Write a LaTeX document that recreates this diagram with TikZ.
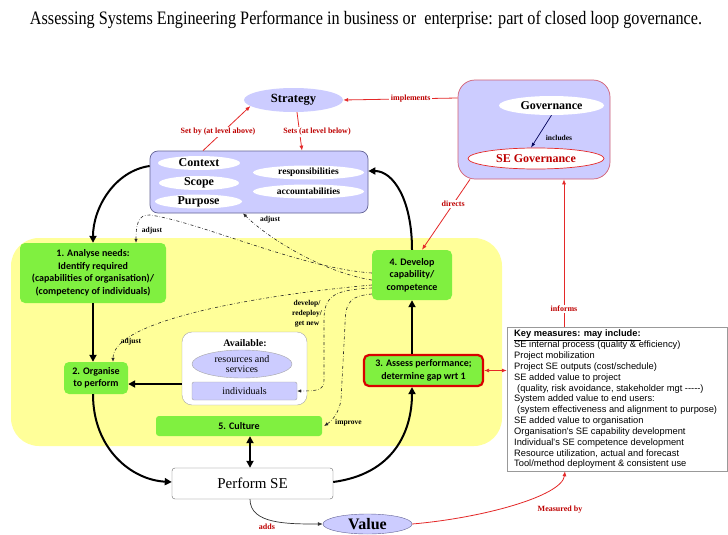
\documentclass[tikz,border=0pt]{standalone}
\usepackage{graphicx}
\usepackage{fontspec}
\setmainfont{Liberation Serif}
\newfontfamily\calibrifont{Carlito}
\newfontfamily\arialfont{Liberation Sans}
\usepackage{tikz}
\usetikzlibrary{arrows.meta,shapes.geometric}
\definecolor{lavfill}{RGB}{204,204,255}
\definecolor{lavedge}{RGB}{100,100,150}
\definecolor{limefill}{RGB}{128,240,64}
\definecolor{yelfill}{RGB}{255,255,153}
\definecolor{labred}{RGB}{190,0,0}
\definecolor{linered}{RGB}{228,40,40}
\definecolor{govedge}{RGB}{210,95,115}
\newcommand{\thk}{2pt}
\newcommand{\thn}{0.6pt}

\begin{document}
\begin{tikzpicture}[x=1pt,y=1pt]
  %\draw[help lines,step=20] (0,0) grid (728,-535);
  \tikzset{
    greenbox/.style={fill=limefill, rounded corners=5pt, align=center, inner sep=0pt,
      font=\calibrifont\bfseries\fontsize{10}{12.5}\selectfont},
    lavbox/.style={draw=lavedge, fill=lavfill, rounded corners=8pt, line width=0.7pt, inner sep=0pt},
    whiteell/.style={ellipse, fill=white, inner sep=-2pt},
    serifbold/.style={font=\bfseries\fontsize{#1}{#1}\selectfont},
    redlab/.style={text=labred, fill=white, inner sep=1.5pt, font=\bfseries\fontsize{8}{9}\selectfont},
    blacklab/.style={inner sep=1pt, align=center, font=\bfseries\fontsize{7.5}{10}\selectfont},
    flowarr/.style={line width=\thk, -{Triangle[length=7pt,width=7pt]}},
    redline/.style={linered, line width=0.8pt, -{Latex[length=5pt,width=4pt]}},
    dd/.style={dash dot, line width=\thn, black!85, -{Latex[length=4pt,width=3.5pt]}}
  }
  \fill[white] (0,0) rectangle (728,-535);
  \useasboundingbox (0,0) rectangle (728,-535);

  \node[font=\fontsize{19}{19}\selectfont, inner sep=0pt] (title) at (366,-20)
    {\resizebox{672pt}{\height}{Assessing Systems Engineering Performance in business or\ \ enterprise: part of closed loop governance.}};

  % the closed loop
  \node[fill=yelfill, rounded corners=28pt, minimum width=491pt, minimum height=208pt, inner sep=0pt] (zone) at (256.5,-342) {};

  \node[greenbox, minimum width=146pt, minimum height=60pt] (analyse) at (93,-273)
    {1. Analyse needs:\\Identify required\\(capabilities of organisation)/\\(competency of individuals)};
  \node[greenbox, minimum width=64pt, minimum height=32pt] (organise) at (96,-378) {2. Organise\\to perform};
  \node[greenbox, draw=red!85!black, line width=2.2pt, minimum width=119pt, minimum height=31pt] (assess) at (423.5,-370.5)
    {3. Assess performance;\\determine gap wrt 1};
  \node[greenbox, minimum width=80pt, minimum height=50pt] (develop) at (412,-275) {4. Develop\\capability/\\competence};
  \node[greenbox, rounded corners=3pt, minimum width=166pt, minimum height=20pt] (culture) at (239,-426) {5. Culture};

  \node[draw=gray!70, fill=white, rounded corners=10pt, minimum width=125pt, minimum height=73pt] (avail) at (244.5,-368.5) {};
  \node[serifbold=10] (availtxt) at (245,-343) {Available:};
  \node[ellipse, draw=gray!70, fill=lavfill, inner sep=-2pt, minimum width=100pt, minimum height=28pt, align=center,
    font=\fontsize{10}{10.5}\selectfont] (resources) at (242,-364) {resources and\\services};
  \node[draw=gray!70, fill=lavfill, rounded corners=2pt, minimum width=105pt, minimum height=18pt, inner sep=0pt,
    font=\fontsize{10}{10}\selectfont] (individuals) at (244.5,-391) {individuals};

  % strategy and context
  \node[ellipse, fill=lavfill, inner sep=-2pt, minimum width=99pt, minimum height=24pt, serifbold=12.5] (strategy) at (293.5,-100) {Strategy};
  \node[lavbox, minimum width=218pt, minimum height=62pt] (ctxbox) at (259,-182) {};
  \node[whiteell, minimum width=82pt, minimum height=14pt, serifbold=12] (context) at (199,-163) {Context};
  \node[whiteell, minimum width=80pt, minimum height=14pt, serifbold=12] (scope) at (199,-183) {Scope};
  \node[whiteell, minimum width=87pt, minimum height=14pt, serifbold=12] (purpose) at (198.5,-201.5) {Purpose};
  \node[whiteell, minimum width=111pt, minimum height=14pt, serifbold=9.5] (resp) at (308.5,-172.5) {responsibilities};
  \node[whiteell, minimum width=111pt, minimum height=14pt, serifbold=9.5] (acc) at (308.5,-191.5) {accountabilities};

  % governance
  \node[draw=govedge, fill=lavfill, rounded corners=17pt, line width=0.7pt, minimum width=152pt, minimum height=99pt] (govbox) at (534,-129.5) {};
  \node[whiteell, minimum width=105pt, minimum height=19pt, serifbold=12] (gov) at (551.5,-105.5) {Governance};
  \node[whiteell, draw=linered, line width=0.7pt, minimum width=136pt, minimum height=21pt, text=labred, serifbold=12] (segov) at (536,-158.5) {SE Governance};
  \node[blacklab] (includes) at (559,-138) {includes};
  \draw[blue!35!black, line width=0.7pt, -{Latex[length=5pt,width=3.5pt]}] (gov.south) -- ([xshift=-5pt]segov.north);

  % perform and value
  \node[draw=gray!80!black, fill=white, rounded corners=3pt, minimum width=161pt, minimum height=31pt,
    font=\fontsize{15}{15}\selectfont] (perform) at (252.5,-483.5) {Perform SE};
  \node[ellipse, draw=lavedge, fill=lavfill, inner sep=-2pt, minimum width=89pt, minimum height=20pt, serifbold=16] (value) at (367.5,-524) {Value};

  % measures
  \node[draw=gray!80, fill=white, minimum width=220pt, minimum height=144pt, inner sep=0pt] (keybox) at (617,-399) {};
  \node[anchor=north west, align=left, inner sep=0pt, font=\arialfont\fontsize{9.3}{10.83}\selectfont] (keytxt) at (514,-330)
    {\textbf{\underline{Key measures: may include:}}\\
     SE internal process (quality \& efficiency)\\
     Project mobilization\\
     Project SE outputs (cost/schedule)\\
     SE added value to project\\
     \hspace{3pt}(quality, risk avoidance, stakeholder mgt {-}{-}{-}{-}{-})\\
     System added value to end users:\\
     \hspace{3pt}(system effectiveness and alignment to purpose)\\
     SE added value to organisation\\
     Organisation's SE capability development\\
     Individual's SE competence development\\
     Resource utilization, actual and forecast\\
     Tool/method deployment \& consistent use};

  % main loop
  \draw[flowarr] ([yshift=16pt]ctxbox.west) .. controls +(-35,-5) and +(0,35) .. (analyse.north);
  \draw[flowarr] (analyse.south) -- (analyse.south |- organise.north);
  \draw[flowarr] ([xshift=-3pt]organise.south) .. controls +(0,-55) and +(-40,2) .. ([yshift=1.5pt]perform.west);
  \draw[flowarr] ([yshift=1.5pt]perform.east) .. controls +(60,8) and +(0,-45) .. (develop.south |- assess.south);
  \draw[flowarr] (develop.south |- assess.north) -- (develop.south);
  \draw[flowarr] (develop.north) .. controls +(0,50) and +(25,0) .. ([yshift=11pt]ctxbox.east);
  \draw[flowarr] ([yshift=-15.5pt]avail.west) -- ([yshift=-6pt]organise.east);
  \draw[flowarr, {Triangle[length=7pt,width=7pt]}-{Triangle[length=7pt,width=7pt]}] ([xshift=11pt]culture.south) -- ([xshift=-2.5pt]perform.north);
  \draw[black!80, line width=0.7pt, -{Latex[length=5pt,width=4pt]}] ([xshift=-2.5pt]perform.south) .. controls +(0,-25) and +(-35,0) .. (value.west);
  \node[redlab, fill=none] (adds) at (267,-527) {adds};

  % red links
  \draw[redline] ([yshift=31.5pt]govbox.west) -- (strategy.east) node[redlab, pos=0.41] (implements) {implements};
  \draw[redline] ([xshift=-56pt]ctxbox.north) -- (strategy.188);
  \node[redlab] (setby) at (218,-132) {Set by (at level above)};
  \draw[redline] ([xshift=3.5pt]strategy.south) -- ([xshift=43pt]ctxbox.north);
  \node[redlab] (sets) at (317,-132) {Sets (at level below)};
  \draw[redline] ([xshift=-64pt]govbox.south) -- ([xshift=10pt]develop.north) node[redlab, pos=0.35] (directs) {directs};
  \draw[redline] ([xshift=-53pt]keybox.north) -- ([xshift=30pt]govbox.south) node[redlab, pos=0.12] (informs) {informs};
  \draw[redline, {Latex[length=5pt,width=4pt]}-{Latex[length=5pt,width=4pt]}] (assess.east) -- (assess.east -| keybox.west);
  \draw[redline] (value.east) .. controls +(70,6) and +(-3,-25) .. ([xshift=-52pt]keybox.south);
  \node[redlab, fill=none] (measured) at (560,-510) {Measured by};

  % feedback from 4
  \draw[dd] ([yshift=2pt]develop.west) .. controls (300,-268) and (200,-222) .. (150,-215)
    .. controls (138,-214) and (136,-225) .. ([xshift=43pt]analyse.north);
  \node[blacklab] (adjust1) at (152,-231) {adjust};
  \draw[dd] ([yshift=-5pt]develop.west) .. controls (322,-272) and (268,-238) .. ([xshift=-16pt]ctxbox.south);
  \node[blacklab] (adjust2) at (270,-220) {adjust};
  \draw[dd] ([yshift=-10pt]develop.west) .. controls (260,-295) and (113,-320) .. ([xshift=17pt]organise.north);
  \node[blacklab] (adjust3) at (131,-342) {adjust};
  \draw[dd] ([yshift=-13pt]develop.west) .. controls (335,-290) and (324,-295) .. (324,-320) -- (324,-380)
    .. controls (324,-390) and (318,-391) .. (individuals.east);
  \node[blacklab] (devlbl) at (307,-314) {develop/\\redeploy/\\get new};
  \draw[dd] ([yshift=-19pt]develop.west) .. controls (352,-296) and (345,-300) .. (345,-325) -- (341,-400)
    .. controls (339,-412) and (333,-420) .. ([xshift=2pt]culture.east);
  \node[blacklab, anchor=west] (improve) at (334,-423) {improve};
\end{tikzpicture}
\end{document}
